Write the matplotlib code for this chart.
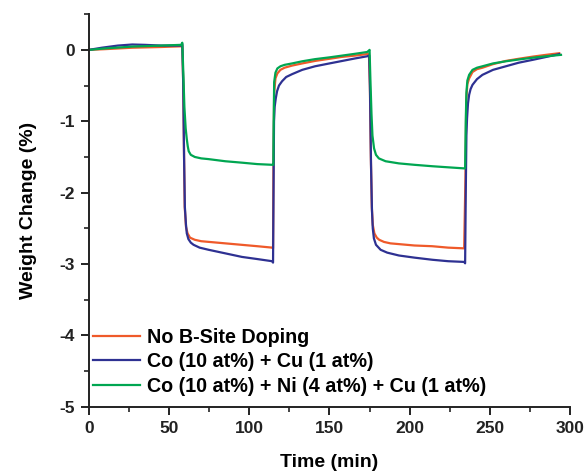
import matplotlib
matplotlib.use("Agg")
import matplotlib.pyplot as plt
from matplotlib.ticker import MultipleLocator

plt.rcParams['font.family'] = ['Liberation Sans', 'DejaVu Sans']
plt.rcParams['font.weight'] = 'bold'
plt.rcParams['axes.unicode_minus'] = False

labels = ["No B-Site Doping",
          "Co (10 at%) + Cu (1 at%)",
          "Co (10 at%) + Ni (4 at%) + Cu (1 at%)"]
colors = ["#ef5a2a", "#2e3192", "#00a651"]

# (time in min, weight change in %)
no_doping = [
    (0, 0), (10, 0.01), (27, 0.03), (45, 0.04), (57.5, 0.05), (58.2, 0.06),
    (58.8, -0.5), (59.3, -1.5), (59.7, -2.2), (60.5, -2.48), (61.5, -2.57),
    (63, -2.63), (66, -2.66), (70, -2.68), (75, -2.69), (85, -2.71),
    (95, -2.73), (105, -2.75), (114.3, -2.77), (114.8, -2.78), (115.1, -1.5),
    (115.5, -0.6), (116.3, -0.40), (117.5, -0.33), (119.4, -0.28), (122, -0.25),
    (126.7, -0.22), (133, -0.19), (141, -0.155), (150, -0.125), (158, -0.098),
    (166, -0.08), (173, -0.06), (174.6, -0.06), (175.2, -0.5), (175.8, -1.5),
    (176.4, -2.2), (177, -2.45), (178, -2.57), (179.5, -2.63), (181, -2.66),
    (184, -2.69), (188, -2.71), (193, -2.72), (203, -2.74), (214, -2.75),
    (224, -2.77), (234, -2.78), (234.8, -1.8), (235.3, -0.7), (236, -0.48),
    (237.1, -0.40), (239.2, -0.31), (242, -0.27), (245.4, -0.25), (252, -0.20),
    (260, -0.155), (268, -0.125), (277, -0.094), (285, -0.07), (293.3, -0.047),
]

co_cu = [
    (0, 0), (8, 0.03), (18, 0.06), (27, 0.075), (35, 0.07), (45, 0.06),
    (57.5, 0.06), (58.2, 0.08), (58.8, -0.5), (59.3, -1.5), (59.8, -2.2),
    (60.5, -2.45), (61, -2.57), (62, -2.65), (63.5, -2.70), (65.2, -2.73),
    (69, -2.77), (74.6, -2.80), (85, -2.85), (95.4, -2.90), (105, -2.93),
    (114.2, -2.96), (114.8, -2.98), (115.1, -2.0), (115.4, -1.0), (115.8, -0.80),
    (116.5, -0.68), (117.3, -0.58), (118.5, -0.50), (120.4, -0.44), (123, -0.38),
    (126.7, -0.34), (133, -0.28), (141, -0.23), (150, -0.19), (158, -0.155),
    (166, -0.12), (173.5, -0.09), (174.8, -0.08), (175.3, -0.6), (175.9, -1.6),
    (176.5, -2.25), (177, -2.5), (177.7, -2.64), (179, -2.73), (181.9, -2.80),
    (186, -2.84), (193.3, -2.88), (203, -2.91), (214.2, -2.94), (224, -2.96),
    (234, -2.97), (234.6, -2.99), (235.0, -2.0), (235.4, -1.2), (235.8, -0.96),
    (236.4, -0.75), (237.1, -0.63), (238, -0.55), (239.2, -0.49), (242, -0.41),
    (245.4, -0.35), (252, -0.28), (260, -0.23), (268, -0.18), (276.7, -0.14),
    (285, -0.10), (293.3, -0.06),
]

co_ni_cu = [
    (0, 0), (10, 0.02), (27, 0.046), (45, 0.06), (57.5, 0.07), (58.2, 0.1),
    (58.8, -0.3), (59.5, -0.8), (60.3, -1.1), (61.0, -1.25), (61.6, -1.35),
    (62.2, -1.42), (63.5, -1.47), (66, -1.50), (70, -1.52), (74.5, -1.53),
    (85, -1.56), (95.4, -1.58), (105, -1.60), (114.5, -1.61), (115.0, -1.61),
    (115.2, -1.0), (115.5, -0.45), (116.3, -0.32), (117.5, -0.26), (119.4, -0.23),
    (122, -0.21), (126.7, -0.19), (133, -0.16), (141, -0.13), (150, -0.105),
    (158, -0.08), (166, -0.055), (173.5, -0.03), (174.6, -0.01), (175.0, 0.0),
    (175.5, -0.4), (176.2, -0.9), (176.8, -1.2), (177.8, -1.38), (179, -1.47),
    (180.8, -1.52), (185, -1.56), (193.3, -1.59), (203, -1.61), (214.2, -1.63),
    (224, -1.645), (234, -1.66), (234.6, -1.66), (235.0, -1.0), (235.4, -0.6),
    (236.0, -0.43), (237.1, -0.35), (239.2, -0.28), (242, -0.25), (245.4, -0.23),
    (252, -0.19), (260, -0.16), (268, -0.135), (276.7, -0.11), (285, -0.09),
    (294.4, -0.07),
]

fig = plt.figure(figsize=(5.87, 4.72), dpi=100)
ax = fig.add_axes([0.1516, 0.138, 0.8194, 0.832])

for series, lab, col in zip([no_doping, co_cu, co_ni_cu], labels, colors):
    t, w = zip(*series)
    ax.plot(t, w, color=col, lw=1.6, label=lab)

ax.set_xlim(0, 300)
ax.set_ylim(-5, 0.5)
ax.xaxis.set_major_locator(MultipleLocator(50))
ax.xaxis.set_minor_locator(MultipleLocator(25))
ax.yaxis.set_minor_locator(MultipleLocator(0.5))
ax.set_yticks([-5, -4, -3, -2, -1, 0])

for side in ["top", "right"]:
    ax.spines[side].set_visible(False)
for side in ["left", "bottom"]:
    ax.spines[side].set_linewidth(1.4)
    ax.spines[side].set_color("#222222")

ax.tick_params(which="major", direction="out", length=6, width=1.4,
               labelsize=12.5, colors="#222222", pad=4)
ax.tick_params(which="minor", direction="out", length=3.5, width=1.2,
               colors="#222222")

ax.set_xlabel("Time (min)", fontsize=14, fontweight="bold", labelpad=13)
ax.set_ylabel("Weight Change (%)", fontsize=14, fontweight="bold", labelpad=16)

ax.legend(loc="lower left", bbox_to_anchor=(0.008, 0.028), frameon=False,
          fontsize=14.2, handlelength=2.4, handletextpad=0.35, labelspacing=0.28,
          borderpad=0, borderaxespad=0)

fig.savefig("out.png", dpi=100)
